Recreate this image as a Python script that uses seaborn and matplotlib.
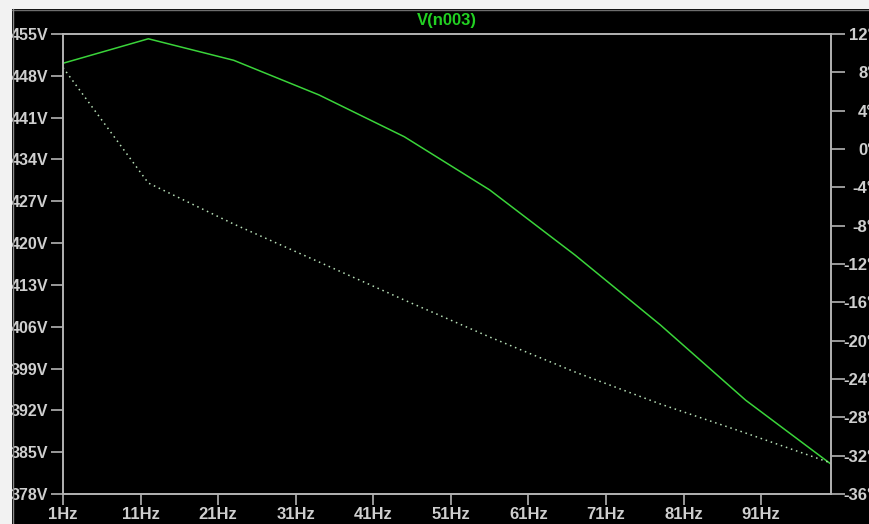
import matplotlib
matplotlib.use("Agg")
import matplotlib.pyplot as plt
from matplotlib.patches import Rectangle
from matplotlib.lines import Line2D
import numpy as np
import pandas as pd
import seaborn as sns

# AC sweep of node n003: magnitude (V) and phase (degrees)
freq_hz = [1, 12, 23, 34, 45, 56, 67, 78, 89, 100]
magnitude_v = [450.1, 454.2, 450.6, 444.8, 437.8, 428.9, 418.0, 406.3, 393.7, 383.0]
phase_deg = [8.5, -3.55, -7.83, -11.79, -15.76, -19.62, -23.27, -26.61, -29.64, -32.77]

x_ticks = [1, 11, 21, 31, 41, 51, 61, 71, 81, 91]
x_labels = [f"{f}Hz" for f in x_ticks]
mag_ticks = [455, 448, 441, 434, 427, 420, 413, 406, 399, 392, 385, 378]
mag_labels = [f"{v}V" for v in mag_ticks]
phase_ticks = [12, 8, 4, 0, -4, -8, -12, -16, -20, -24, -28, -32, -36]
phase_labels = [f"{v}°" for v in phase_ticks]
title = "V(n003)"

df = pd.DataFrame({"freq": freq_hz, "mag": magnitude_v, "phase": phase_deg})

sns.set_style("dark")
plt.rcParams["font.family"] = ["Liberation Sans", "DejaVu Sans"]
plt.rcParams["font.weight"] = "bold"

W, H = 869, 524
fig = plt.figure(figsize=(W / 100, H / 100), dpi=100, facecolor="black")

# window chrome strips at top and left
fig.patches.append(Rectangle((0, 1 - 9 / H), 1, 9 / H, transform=fig.transFigure,
                             facecolor="#f2f2f2", edgecolor="none", zorder=0))
fig.patches.append(Rectangle((0, 0), 12 / W, 1, transform=fig.transFigure,
                             facecolor="#f2f2f2", edgecolor="none", zorder=0))
fig.lines.append(Line2D([12 / W, 1], [1 - 9.5 / H, 1 - 9.5 / H], transform=fig.transFigure,
                        color="#6e6e6e", lw=1))
fig.lines.append(Line2D([12.5 / W, 12.5 / W], [0, 1 - 9 / H], transform=fig.transFigure,
                        color="#8a8a8a", lw=1))

left, right, top, bottom = 63, 831, 34, 494
ax = fig.add_axes([left / W, (H - bottom) / H, (right - left) / W, (bottom - top) / H])
ax.set_facecolor("black")
ax2 = ax.twinx()

green = "#3ad43a"
sns.lineplot(data=df, x="freq", y="mag", ax=ax, color=green, lw=1.1)
sns.lineplot(data=df, x="freq", y="phase", ax=ax2, color="#b8e0b8", lw=1.1,
             linestyle=(0, (1, 2.5)))

ax.set_xlim(1, 100)
ax.set_ylim(378, 455)
ax2.set_ylim(-36, 12)

grey = "#b4b4b4"
label_grey = "#cfcfcf"
for a in (ax, ax2):
    a.grid(False)
    a.set_xlabel("")
    a.set_ylabel("")
    for s in a.spines.values():
        s.set_visible(True)
        s.set_color(grey)
        s.set_linewidth(1.2)

ax.set_xticks(x_ticks)
ax.set_xticklabels(x_labels)
ax.set_yticks(mag_ticks)
ax.set_yticklabels(mag_labels)
ax2.set_yticks(phase_ticks)
ax2.set_yticklabels(phase_labels, ha="right")

ax.tick_params(axis="x", direction="out", length=8, width=1.2, color=grey,
               labelcolor=label_grey, labelsize=12, pad=1.5, bottom=True)
ax.tick_params(axis="y", direction="out", length=9, width=1.2, color=grey,
               labelcolor=label_grey, labelsize=11.5, pad=1.5, left=True)
ax2.tick_params(axis="y", direction="out", length=10, width=1.2, color=grey,
                labelcolor=label_grey, labelsize=12, pad=21, right=True)

for lab in ax.get_xticklabels() + ax.get_yticklabels() + ax2.get_yticklabels():
    lab.set_fontweight("bold")

fig.text((left + right) / 2 / W, 1 - 21 / H, title, color="#22d022", fontsize=12,
         fontweight="bold", ha="center", va="center")

fig.savefig("out.png", dpi=100, facecolor="black")
